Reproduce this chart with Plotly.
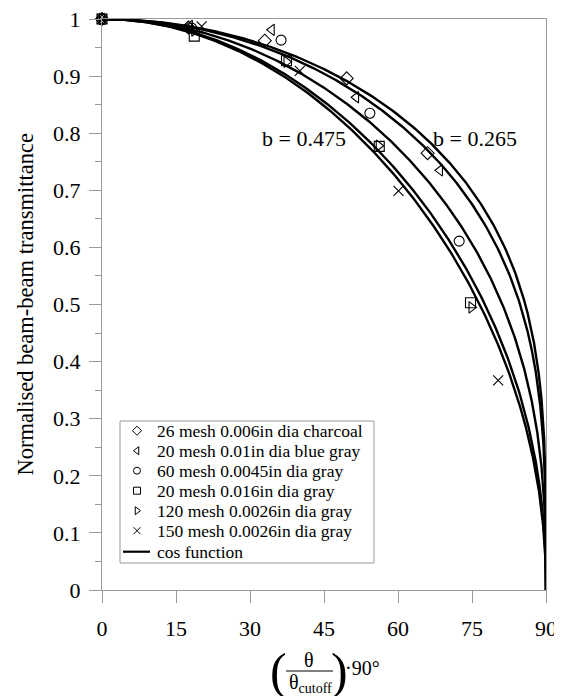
import numpy as np
import plotly.graph_objects as go

# ---------------- data ----------------
series_names = [
    "26 mesh 0.006in dia charcoal",
    "20 mesh 0.01in dia blue gray",
    "60 mesh 0.0045in dia gray",
    "20 mesh 0.016in dia gray",
    "120 mesh 0.0026in dia gray",
    "150 mesh 0.0026in dia gray",
]
series_symbols = ["diamond-open", "triangle-left-open", "circle-open",
                  "square-open", "triangle-right-open", "x-thin-open"]
curve_name = "cos function"

x_26_charcoal = [0, 17.5, 33.0, 49.6, 66.0]
y_26_charcoal = [1, 0.985, 0.962, 0.896, 0.765]

x_20_bluegray = [0, 17.8, 34.4, 51.5, 68.5]
y_20_bluegray = [1, 0.988, 0.981, 0.863, 0.735]

x_60_gray = [0, 18.2, 36.3, 54.3, 72.4]
y_60_gray = [1, 0.984, 0.963, 0.835, 0.611]

x_20_gray = [0, 18.7, 37.4, 56.2, 74.7]
y_20_gray = [1, 0.970, 0.927, 0.777, 0.503]

x_120_gray = [0, 18.7, 37.4, 56.1, 74.9]
y_120_gray = [1, 0.980, 0.925, 0.778, 0.495]

x_150_gray = [0, 20.2, 40.1, 60.1, 80.3]
y_150_gray = [1, 0.987, 0.909, 0.699, 0.367]

series_x = [x_26_charcoal, x_20_bluegray, x_60_gray, x_20_gray, x_120_gray, x_150_gray]
series_y = [y_26_charcoal, y_20_bluegray, y_60_gray, y_20_gray, y_120_gray, y_150_gray]

# exponents of the cos^b curves
b_values = [0.265, 0.29, 0.37, 0.45, 0.475]
label_b = ["b = 0.475", "b = 0.265"]
label_x = [41.0, 75.6]
label_y = [0.79, 0.79]

x_ticks = [0, 15, 30, 45, 60, 75, 90]
y_ticks = [0, 0.1, 0.2, 0.3, 0.4, 0.5, 0.6, 0.7, 0.8, 0.9, 1]

# ---------------- layout geometry (page pixels) ----------------
FONT = "Liberation Serif"
OFF = 8                      # default body margin of the html page
W, H = 562 - OFF, 696 - OFF
P_L, P_R, P_T, P_B = 102, 546, 19, 590   # plot area on the page
PW, PH = P_R - P_L, P_B - P_T


def px_x(p):
    return (p - P_L) / PW


def px_y(p):
    return (P_B - p) / PH


fig = go.Figure()

for name, sym, xs, ys in zip(series_names, series_symbols, series_x, series_y):
    fig.add_trace(go.Scatter(
        x=xs, y=ys, mode="markers", name=name, showlegend=False,
        marker=dict(symbol=sym, size=10, color="black",
                    line=dict(color="black", width=1.1)),
        cliponaxis=False,
    ))

theta = np.concatenate([np.linspace(0, 85, 300), np.linspace(85, 90, 300)])
for i, b in enumerate(b_values):
    fig.add_trace(go.Scatter(
        x=theta, y=np.cos(np.radians(theta)).clip(0) ** b,
        mode="lines", name=curve_name, showlegend=False,
        line=dict(color="black", width=2.4),
        cliponaxis=False,
    ))

for txt, lx, ly in zip(label_b, label_x, label_y):
    fig.add_annotation(x=lx, y=ly, text=txt, showarrow=False,
                       font=dict(family=FONT, size=22, color="black"),
                       xanchor="center", yanchor="middle")


def ann(px, py, text, size, xanchor="center", angle=0):
    fig.add_annotation(xref="paper", yref="paper", x=px_x(px), y=px_y(py),
                       text=text, showarrow=False, xanchor=xanchor,
                       yanchor="middle", textangle=angle,
                       font=dict(family=FONT, size=size, color="black"))


# y-axis title
ann(25, (P_T + P_B) / 2, "Normalised beam-beam transmittance", 22.5, angle=-90)

# x-axis title: (θ / θ_cutoff)·90°
ann(278, 671, "(", 50)
ann(339, 671, ")", 50)
ann(309, 660, "θ", 20)
ann(310, 683, "θ<sub>cutoff</sub>", 20)
ann(343, 668, "·90°", 20, xanchor="left")
fig.add_shape(type="line", xref="paper", yref="paper",
              x0=px_x(286), x1=px_x(333), y0=px_y(671), y1=px_y(671),
              line=dict(color="black", width=1))

# ---------------- hand-made legend (overlay axes in page pixels) -------------
LEG_L, LEG_R, LEG_T, LEG_B = 120, 374, 421, 563
row_y = [430.7, 450.7, 470.7, 490.7, 510.7, 530.7, 551.7]
fig.add_shape(type="rect", xref="paper", yref="paper",
              x0=px_x(LEG_L), x1=px_x(LEG_R), y0=px_y(LEG_B), y1=px_y(LEG_T),
              line=dict(color="#9a9a9a", width=1), fillcolor="white",
              layer="below")
for sym, ry in zip(series_symbols, row_y):
    fig.add_trace(go.Scatter(
        x=[137], y=[ry], mode="markers", xaxis="x2", yaxis="y2",
        showlegend=False, hoverinfo="skip",
        marker=dict(symbol=sym, size=7, color="black",
                    line=dict(color="black", width=1)),
    ))
fig.add_trace(go.Scatter(
    x=[123, 150], y=[row_y[-1], row_y[-1]], mode="lines", xaxis="x2",
    yaxis="y2", showlegend=False, hoverinfo="skip",
    line=dict(color="black", width=2.2),
))
for txt, ry in zip(series_names + [curve_name], row_y):
    ann(155, ry, txt, 17.5, xanchor="left")

axis_common = dict(
    showgrid=False, zeroline=False, showline=True, linecolor="#9a9a9a",
    linewidth=1, mirror=True, ticks="outside", ticklen=12, tickwidth=1,
    tickcolor="#9a9a9a", ticklabeloverflow="allow",
    tickfont=dict(family=FONT, size=22, color="black"),
)

fig.update_layout(
    xaxis=dict(range=[0, 90], tickvals=x_ticks,
               ticktext=[str(v) for v in x_ticks],
               ticklabelstandoff=7, **axis_common),
    yaxis=dict(range=[0, 1], tickvals=y_ticks,
               ticktext=[("%g" % v) for v in y_ticks],
               ticklabelstandoff=4,
               minor=dict(ticks="outside", ticklen=6, tickcolor="#9a9a9a",
                          dtick=0.05, showgrid=False),
               **axis_common),
    xaxis2=dict(range=[P_L, P_R], overlaying="x", anchor="y2", visible=False),
    yaxis2=dict(range=[P_B, P_T], overlaying="y", anchor="x2", visible=False),
    width=W, height=H,
    margin=dict(l=P_L - OFF, r=W + OFF - P_R, t=P_T - OFF,
                b=H + OFF - P_B, autoexpand=False),
    paper_bgcolor="white", plot_bgcolor="white",
    font=dict(family=FONT, color="black"),
    showlegend=False,
)

fig.write_html("out.html")
